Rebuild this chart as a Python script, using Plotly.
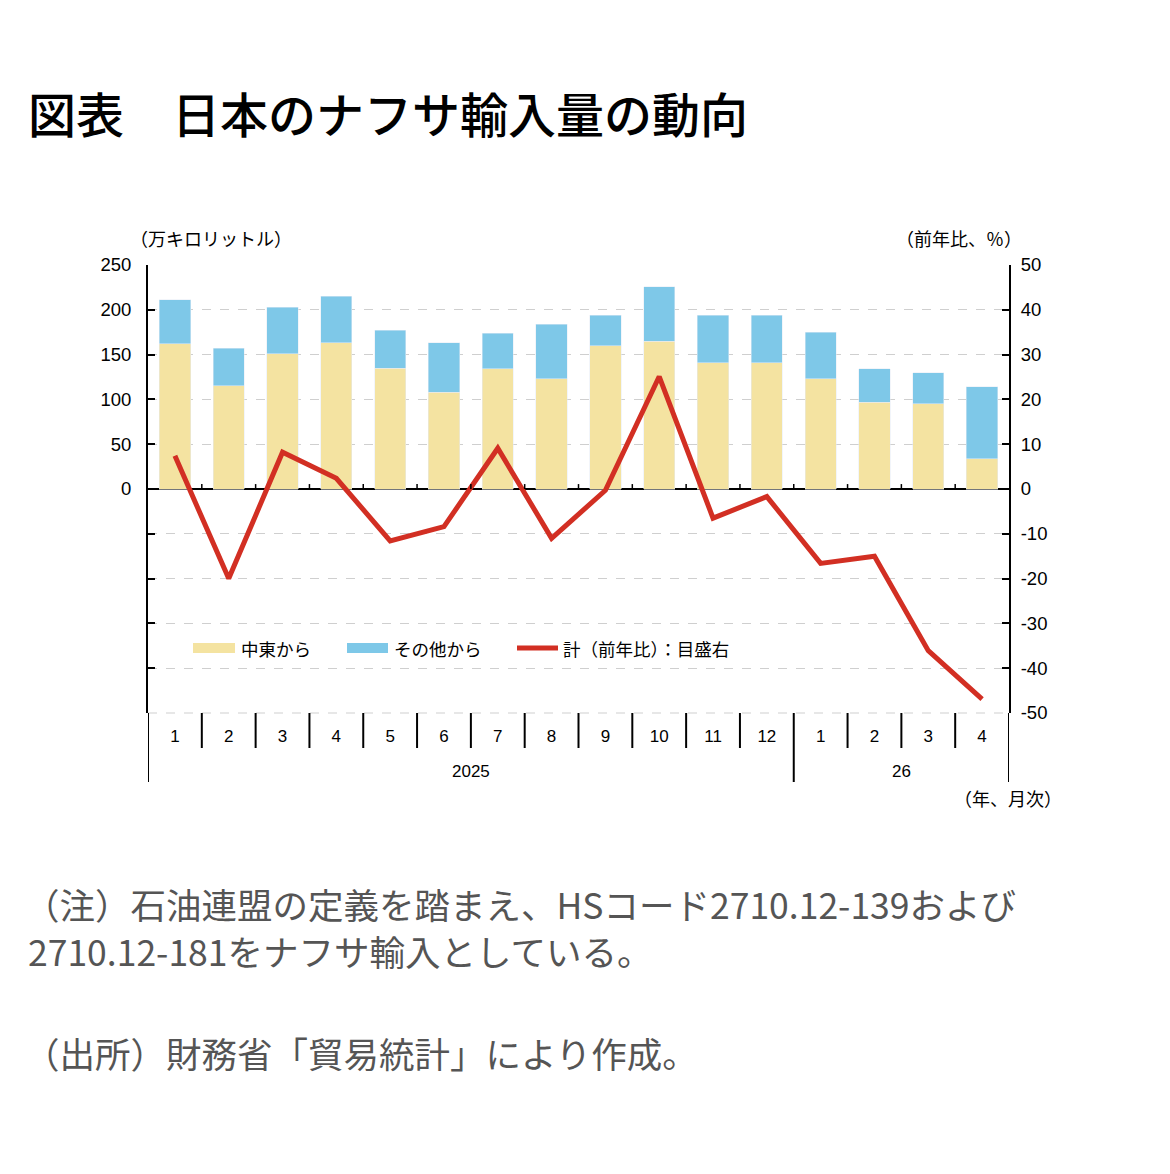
import plotly.graph_objects as go

# ---- data ----
months = ["1", "2", "3", "4", "5", "6", "7", "8", "9", "10", "11", "12", "1", "2", "3", "4"]
years = ["2025"] * 12 + ["26"] * 4
middle_east = [162, 115, 151, 163, 135, 108, 134, 123, 160, 165, 141, 141, 123, 97, 95, 34]
others = [49, 42, 52, 52, 42, 55, 40, 61, 34, 61, 53, 53, 52, 37, 35, 80]
total_yoy = [7.4, -20.0, 8.2, 2.4, -11.6, -8.4, 9.1, -11.0, -0.3, 25.1, -6.5, -1.7, -16.6, -15.0, -36.1, -46.9]
left_ticks = [-250, -200, -150, -100, -50, 0, 50, 100, 150, 200, 250]
right_ticks = [-50, -40, -30, -20, -10, 0, 10, 20, 30, 40, 50]

YELLOW = "#F4E3A1"
BLUE = "#7EC8E8"
RED = "#D22F23"
JP = "Noto Sans CJK JP"
NUM = "Liberation Sans, Noto Sans CJK JP"

W, H = 1170, 1174
L, R, T, B = 148, 161, 265, 461
PW, PH = W - L - R, H - T - B


def px(xp):
    return (xp - L) / PW


def py(yp):
    return (H - B - yp) / PH


x = list(range(len(months)))

fig = go.Figure()
fig.add_trace(go.Bar(x=x, y=middle_east, name="中東から", marker_color=YELLOW,
                     width=0.58, yaxis="y"))
fig.add_trace(go.Bar(x=x, y=others, name="その他から", marker_color=BLUE,
                     width=0.58, yaxis="y"))
fig.add_trace(go.Scatter(x=x, y=total_yoy, name="計（前年比）：目盛右", mode="lines",
                         line=dict(color=RED, width=5), yaxis="y2"))

shapes = []
n = len(months)
# small upward ticks on zero line between categories
for i in range(n - 1):
    shapes.append(dict(type="line", xref="x", yref="y", x0=i + 0.5, x1=i + 0.5,
                       y0=0, y1=5.5, line=dict(color="black", width=1.5)))
# dividers under categories
for i in range(n - 1):
    long = years[i] != years[i + 1]
    shapes.append(dict(type="line", xref="x", yref="paper", x0=i + 0.5, x1=i + 0.5,
                       y0=py(713 + (69 if long else 35)), y1=0,
                       line=dict(color="black", width=2)))
for xe in (-0.5, n - 0.5):
    shapes.append(dict(type="line", xref="x", yref="paper", x0=xe, x1=xe,
                       y0=py(782), y1=0, line=dict(color="black", width=2)))
# bottom dashed gridline
shapes.append(dict(type="line", xref="paper", yref="paper", x0=0, x1=1, y0=0, y1=0,
                   line=dict(color="#CFCFCF", width=1, dash="dash"), layer="below"))

# manual legend
shapes.append(dict(type="rect", xref="paper", yref="paper", x0=px(193), x1=px(235),
                   y0=py(653), y1=py(643), fillcolor=YELLOW, line=dict(width=0)))
shapes.append(dict(type="rect", xref="paper", yref="paper", x0=px(347), x1=px(388),
                   y0=py(653), y1=py(643), fillcolor=BLUE, line=dict(width=0)))
shapes.append(dict(type="line", xref="paper", yref="paper", x0=px(517), x1=px(558),
                   y0=py(648), y1=py(648), line=dict(color=RED, width=5)))

annotations = []


def ann(text, xp, yp, size, xanchor="left", color="black", family=JP, weight=None):
    f = dict(size=size, color=color, family=family)
    if weight:
        f["weight"] = weight
    annotations.append(dict(text=text, xref="paper", yref="paper", x=px(xp), y=py(yp),
                            xanchor=xanchor, yanchor="middle", showarrow=False, font=f))


ann("中東から", 239, 648, 17.5)
ann("その他から", 392, 648, 17.5)
ann("計（前年比）：目盛右", 561, 648, 17.5)

# year group labels
groups = []
for i, yv in enumerate(years):
    if not groups or groups[-1][0] != yv:
        groups.append([yv, i, i])
    else:
        groups[-1][2] = i
for yv, a, b in groups:
    annotations.append(dict(text=yv, xref="x", yref="paper", x=(a + b) / 2, y=py(771),
                            xanchor="center", yanchor="middle", showarrow=False,
                            font=dict(size=17, family=NUM, color="black")))

ann("（万キロリットル）", 128, 238, 18)
ann("（前年比、％）", 1024, 238, 18, xanchor="right")
ann("（年、月次）", 1064, 798, 18, xanchor="right")

ann("図表　日本のナフサ輸入量の動向", 26, 112, 48, weight=500)
ann("（注）石油連盟の定義を踏まえ、HSコード2710.12-139および", 22, 903, 35.5, color="#555555")
ann("2710.12-181をナフサ輸入としている。", 26, 950, 35.5, color="#555555")
ann("（出所）財務省「貿易統計」により作成。", 22, 1052, 35.5, color="#555555")

fig.update_layout(
    width=W, height=H,
    margin=dict(l=L, r=R, t=T, b=B, pad=0),
    paper_bgcolor="white", plot_bgcolor="white",
    barmode="stack", bargap=0.42,
    showlegend=False,
    font=dict(family=NUM, size=17, color="black"),
    xaxis=dict(range=[-0.5, n - 0.5], tickvals=x, ticktext=months, ticks="outside",
               ticklen=8, tickcolor="rgba(0,0,0,0)", showgrid=False, showline=False,
               zeroline=False, tickfont=dict(size=17, family=NUM)),
    yaxis=dict(range=[-250, 250], tickvals=left_ticks,
               ticktext=[str(v) if v >= 0 else "" for v in left_ticks],
               ticks="inside", ticklen=7, tickwidth=1.5, tickcolor="black",
               ticklabelstandoff=11,
               showline=True, linecolor="black", linewidth=2,
               showgrid=True, gridcolor="#CFCFCF", griddash="dash", gridwidth=1,
               zeroline=True, zerolinecolor="black", zerolinewidth=1.5,
               tickfont=dict(size=18.5, family=NUM)),
    yaxis2=dict(range=[-50, 50], tickvals=right_ticks,
                ticktext=[str(v).replace("\u2212", "-") for v in right_ticks],
                overlaying="y", side="right",
                ticks="inside", ticklen=7, tickwidth=1.5, tickcolor="black",
                ticklabelstandoff=6,
                showline=True, linecolor="black", linewidth=2,
                showgrid=False, zeroline=False, tickfont=dict(size=18.5, family=NUM)),
    shapes=shapes,
    annotations=annotations,
)

fig.write_html("out.html")
